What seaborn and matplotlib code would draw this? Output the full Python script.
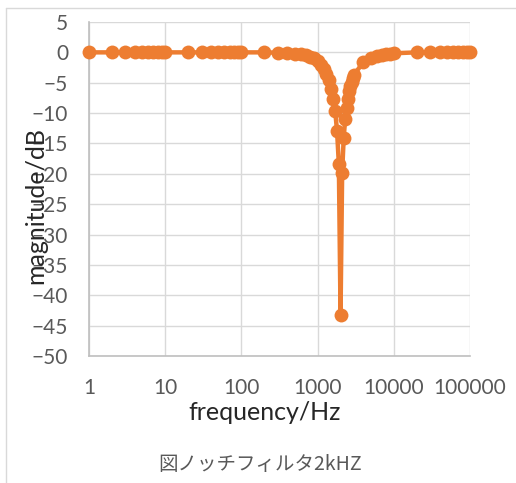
import seaborn as sns
import pandas as pd
import matplotlib.pyplot as plt
from matplotlib.lines import Line2D

# measured points (frequency in Hz, gain in dB)
freq = [1, 2, 3, 4, 5, 6, 7, 8, 9, 10,
        20, 30, 40, 50, 60, 70, 80, 90, 100,
        200, 300, 400, 500, 600, 700, 800, 900,
        1000, 1100, 1200, 1300, 1400, 1500, 1600, 1700, 1800, 1900,
        2000, 2100, 2200, 2300, 2400, 2500, 2600, 2700, 2800, 2900, 3000,
        4000, 5000, 6000, 7000, 8000, 9000, 10000,
        20000, 30000, 40000, 50000, 60000, 70000, 80000, 90000, 100000]
gain = [0.0, 0.0, 0.0, 0.0, 0.0, 0.0, 0.0, 0.0, 0.0, 0.0,
        0.0, 0.0, 0.0, 0.0, 0.0, 0.0, 0.0, 0.0, 0.0,
        0.0, -0.05, -0.1, -0.2, -0.35, -0.5, -0.7, -1.0,
        -1.4, -2.0, -2.7, -3.6, -4.6, -6.0, -7.6, -9.6, -13.0, -18.4,
        -43.3, -19.8, -14.1, -11.0, -9.2, -7.6, -6.4, -5.5, -4.8, -4.2, -3.7,
        -1.6, -0.9, -0.6, -0.4, -0.3, -0.2, -0.15,
        0.0, 0.0, 0.0, 0.0, 0.0, 0.0, 0.0, 0.0, 0.0]

xticks = [1, 10, 100, 1000, 10000, 100000]
xtick_labels = ["1", "10", "100", "1000", "10000", "100000"]
yticks = list(range(-50, 6, 5))

df = pd.DataFrame({"freq": freq, "gain": gain})

sns.set_theme(style="white")
plt.rcParams["font.family"] = ["Lato", "DejaVu Sans"]

orange = "#ED7D31"
grey_txt = "#595959"

fig = plt.figure(figsize=(5.16, 4.83), dpi=100)
ax = fig.add_axes([89 / 516, 1 - 356 / 483, 381 / 516, 334 / 483])

sns.lineplot(data=df, x="freq", y="gain", sort=False, estimator=None,
             color=orange, linewidth=3.2, marker="o", markersize=10,
             markeredgecolor=orange, markeredgewidth=0, clip_on=False,
             ax=ax, zorder=3)

ax.set_xscale("log")
ax.set_xlim(1, 100000)
ax.set_ylim(-50, 5)
ax.set_xticks(xticks)
ax.set_xticklabels(xtick_labels)
ax.xaxis.set_minor_locator(plt.NullLocator())
ax.set_yticks(yticks)
ax.set_xlabel("")
ax.set_ylabel("")

ax.grid(True, color="#D9D9D9", linewidth=1.0)
for side in ["top", "right"]:
    ax.spines[side].set_visible(False)
for side in ["left", "bottom"]:
    ax.spines[side].set_color("#BFBFBF")
    ax.spines[side].set_linewidth(1.2)

ax.tick_params(axis="both", length=0, labelsize=15, colors=grey_txt)
ax.tick_params(axis="x", pad=16)
ax.tick_params(axis="y", pad=15)

fig.text(265 / 516, 1 - 413 / 483, "frequency/Hz", ha="center", va="center",
         fontsize=18, color="#262626")
fig.text(36 / 516, 1 - 206 / 483, "magnitude/dB", ha="center", va="center",
         rotation=90, fontsize=18, color="#262626")
fig.text(260 / 516, 1 - 465 / 483, "図ノッチフィルタ2kHZ", ha="center", va="center",
         fontsize=14, color=grey_txt,
         family=["Noto Sans CJK JP", "DejaVu Sans"])

# chart area frame (only left and top edges are inside the picture)
fig.add_artist(Line2D([5.5 / 516, 5.5 / 516], [0, 1 - 8 / 483],
                      transform=fig.transFigure, color="#D9D9D9", linewidth=1))
fig.add_artist(Line2D([5.5 / 516, 1], [1 - 8 / 483, 1 - 8 / 483],
                      transform=fig.transFigure, color="#D9D9D9", linewidth=1))

fig.savefig("out.png", dpi=100)
